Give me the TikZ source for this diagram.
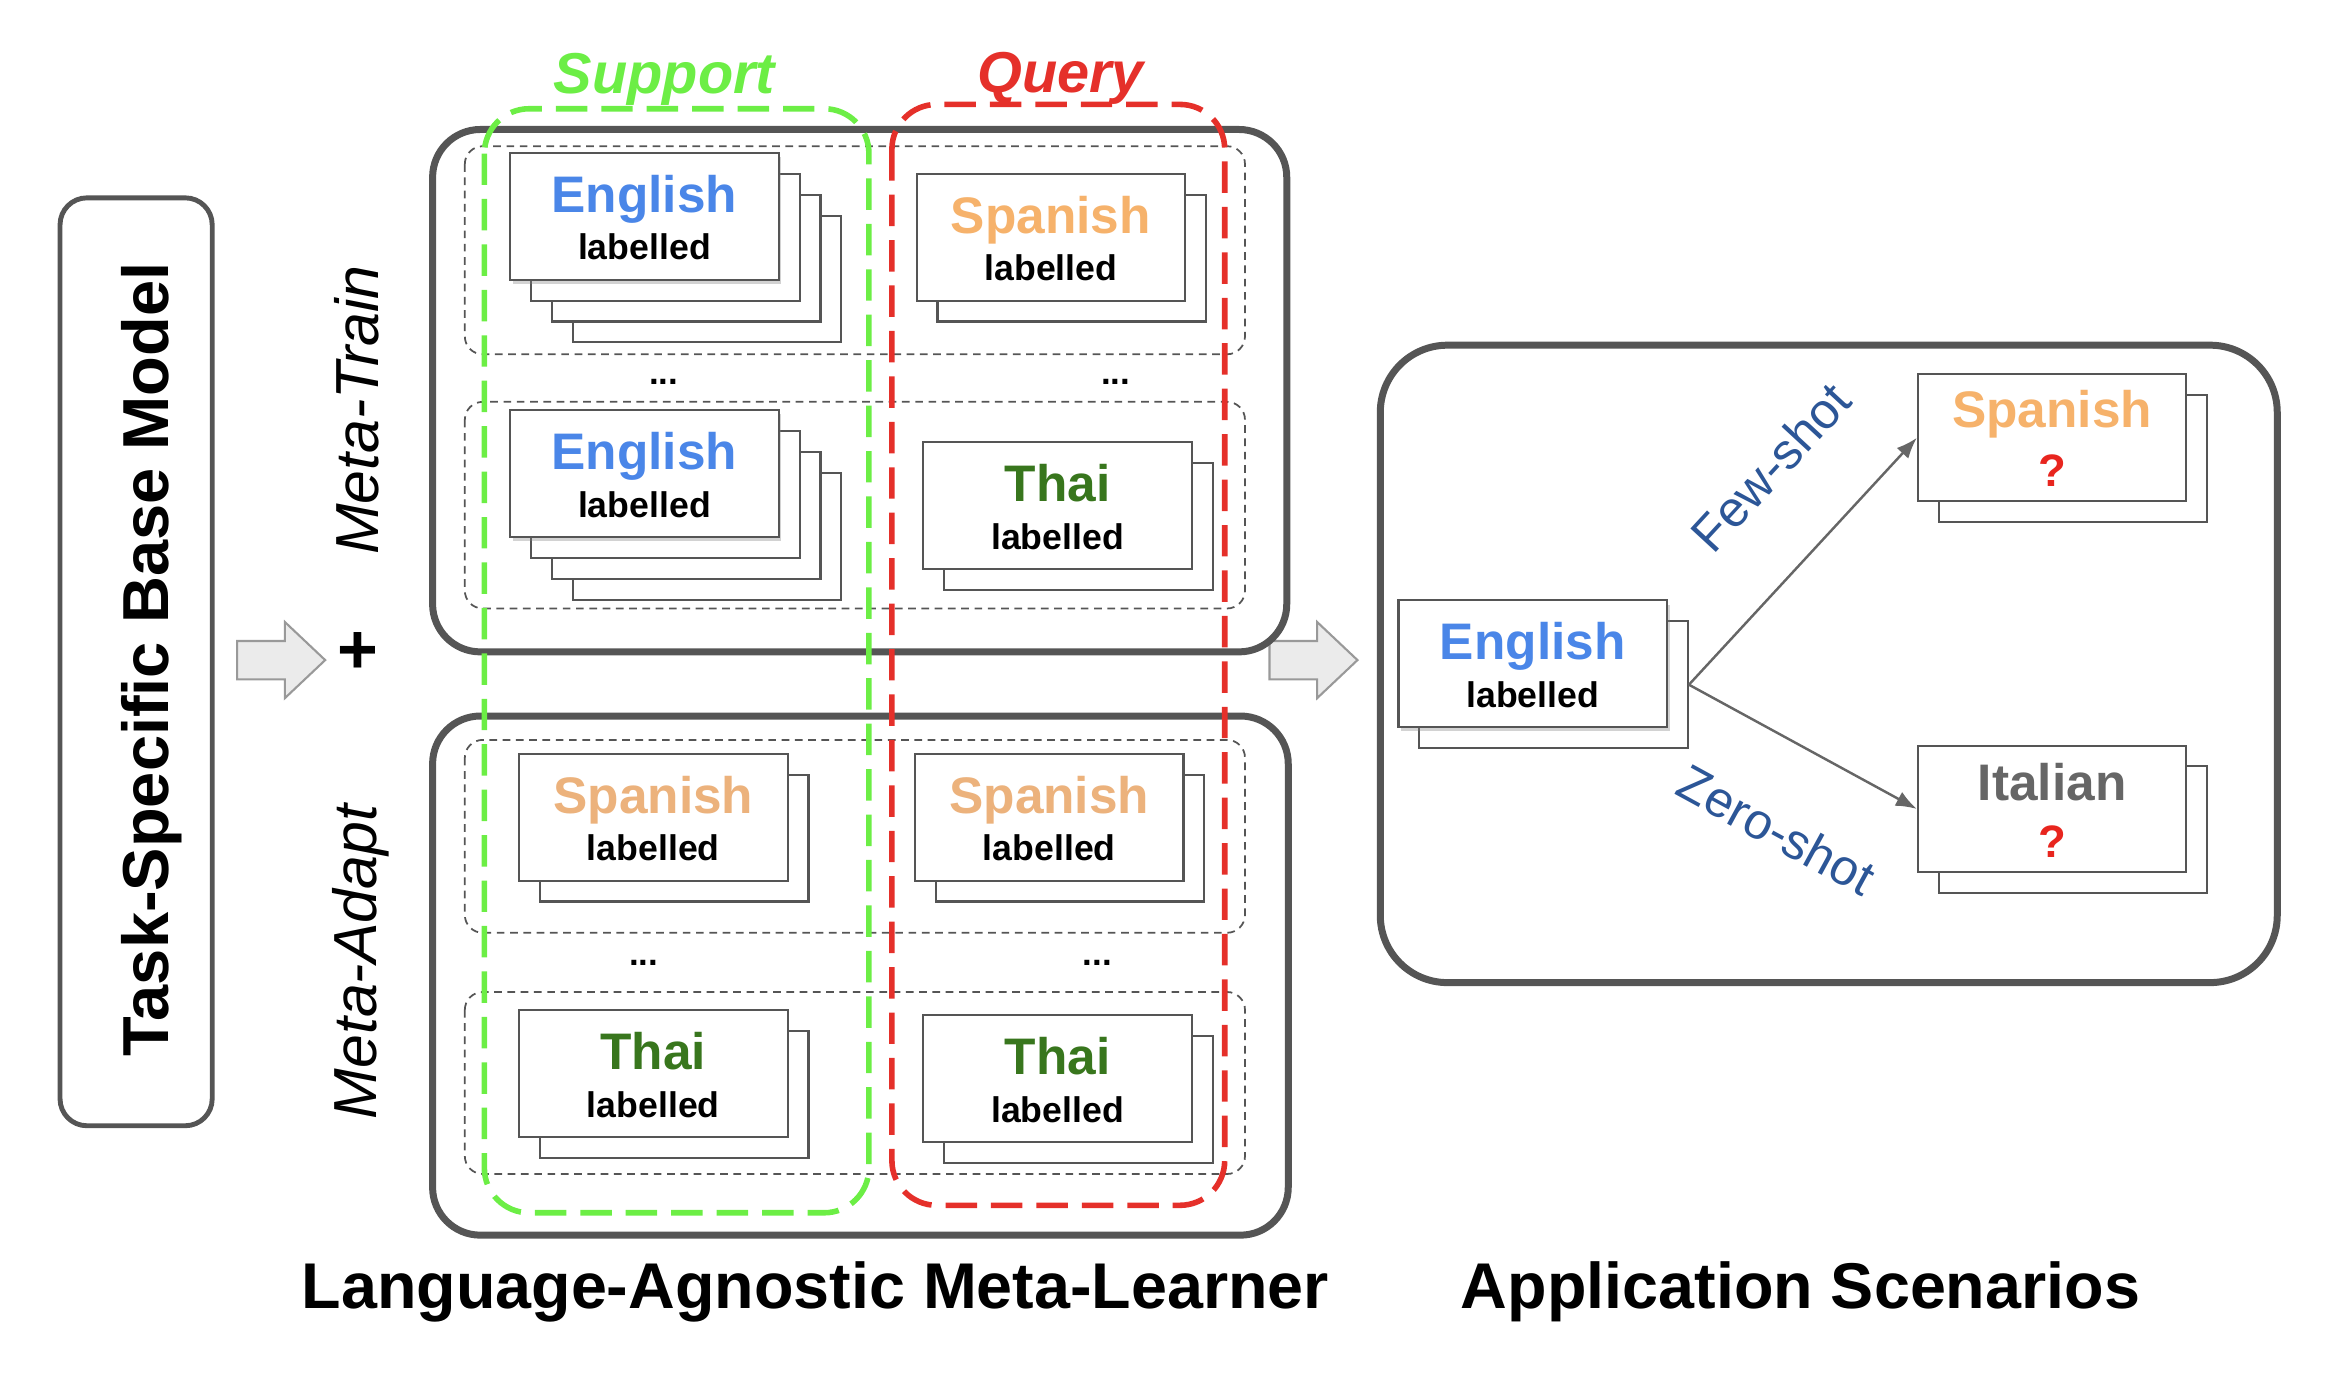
\documentclass[tikz,border=0pt]{standalone}
\usepackage{fontspec}
\setmainfont{Liberation Sans}
\usetikzlibrary{calc,shadows,arrows.meta}
\definecolor{engblue}{HTML}{4A86E8}
\definecolor{spaorange}{HTML}{F6B26B}
\definecolor{spapale}{HTML}{ECB27C}
\definecolor{thaigreen}{HTML}{38761D}
\definecolor{itagray}{HTML}{666666}
\definecolor{supgreen}{HTML}{6CEE45}
\definecolor{qryred}{HTML}{E5302A}
\definecolor{askred}{HTML}{E8251E}
\definecolor{shotblue}{HTML}{2C5697}
\definecolor{boxgray}{HTML}{555555}
\definecolor{arrowfill}{HTML}{EBEBEB}

\begin{document}
\begin{tikzpicture}[x=0.015cm,y=-0.015cm,
  card/.style={draw=boxgray,line width=0.6pt,fill=white,minimum width=2.7cm,minimum height=1.275cm,inner sep=0pt},
  lang/.style={font=\bfseries\fontsize{14.7}{16}\selectfont,inner sep=0pt},
  sub/.style={font=\bfseries\fontsize{10.2}{12}\selectfont,inner sep=0pt},
  ask/.style={font=\bfseries\fontsize{13}{14}\selectfont,text=askred,inner sep=0pt},
  bigbox/.style={draw=boxgray,line width=2pt,rounded corners=0.48cm},
  row/.style={draw=boxgray,line width=0.5pt,dash pattern=on 2.2pt off 1.6pt,rounded corners=0.18cm},
  set/.style={line width=1.6pt,dash pattern=on 9pt off 4pt,rounded corners=0.45cm},
  settitle/.style={font=\bfseries\itshape\fontsize{16.5}{18}\selectfont,inner sep=0pt,anchor=base},
  phase/.style={font=\itshape\fontsize{17.4}{19}\selectfont,inner sep=0pt,anchor=base,rotate=90},
  bottom/.style={font=\bfseries\fontsize{18.5}{20}\selectfont,inner sep=0pt,anchor=base},
  shot/.style={font=\fontsize{14.4}{16}\selectfont,text=shotblue,inner sep=0pt,sloped},
  conn/.style={draw=boxgray!90,line width=0.7pt,-{Latex[length=6pt,width=4.5pt]}},
  fat/.style={draw=gray!80,fill=arrowfill,line width=0.6pt}]

\useasboundingbox (0,0) rectangle (1568,925.8);

% base model
\node[draw=boxgray,line width=1.4pt,rounded corners=0.27cm,minimum width=1.53cm,minimum height=9.33cm] (base) at (91.25,443.65) {};
\node[font=\bfseries\fontsize{18.6}{20}\selectfont,inner sep=0pt,anchor=base,rotate=90] (baselbl) at (112.8,442) {Task-Specific Base Model};

% fat arrows
\foreach \sx in {0,692}
  \draw[fat,xshift=\sx*0.015cm] (159,429.7) -- (191,429.7) -- (191,417) -- (218,442.5) -- (191,468) -- (191,455.4) -- (159,455.4) -- cycle;
\node[font=\bfseries\fontsize{20}{20}\selectfont,inner sep=0pt] (plus) at (240,438) {+};

\node[phase] (mtrain) at (253.5,275) {Meta-Train};
\node[phase] (madapt) at (252.5,645) {Meta-Adapt};

% meta-learner
\draw[bigbox] (290,86.8) rectangle (862.6,437);
\draw[bigbox] (290,480) rectangle (863.6,828);

\draw[row] (311.6,98) rectangle (834.6,237.5);
\draw[row] (311.6,269.4) rectangle (834.6,407.9);
\draw[row] (311.6,496) rectangle (834.6,625.3);
\draw[row] (311.6,665) rectangle (834.6,787);

\node[font=\bfseries\fontsize{10}{12}\selectfont,inner sep=0pt,anchor=base] (dots1) at (445,258) {...};
\node[font=\bfseries\fontsize{10}{12}\selectfont,inner sep=0pt,anchor=base] (dots2) at (748,258) {...};
\node[font=\bfseries\fontsize{10}{12}\selectfont,inner sep=0pt,anchor=base] (dots3) at (431.6,647) {...};
\node[font=\bfseries\fontsize{10}{12}\selectfont,inner sep=0pt,anchor=base] (dots4) at (735.7,647) {...};

% labelled cards
\foreach \nm/\cx/\cy/\n/\word/\col/\sh in {
  e1/432/145/3/English/engblue/0.35,
  e2/432/317.5/3/English/engblue/0.35,
  s1/704.5/159/1/Spanish/spaorange/0,
  t1/709/339/1/Thai/thaigreen/0,
  s2/438/547.8/1/Spanish/spapale/0,
  s3/703.4/547.8/1/Spanish/spapale/0,
  t2/438/719.8/1/Thai/thaigreen/0,
  t3/709/723/1/Thai/thaigreen/0,
  ae/1027.5/445/1/English/engblue/0.35}
{
  \foreach \k in {\n,...,1}
    \node[card] (\nm-b\k) at ({\cx+14*\k},{\cy+14*\k}) {};
  \node[card,drop shadow={opacity=\sh,shadow xshift=0.8pt,shadow yshift=-1.2pt}] (\nm) at (\cx,\cy) {};
  \node[lang,text=\col,anchor=base] (\nm-w) at ($(\nm.center)+(0,-2.75)$) {\word};
  \node[sub,anchor=base] (\nm-l) at ($(\nm.center)+(0,29.25)$) {labelled};
}

\node[settitle,text=supgreen] (suplbl) at (445.4,63) {Support};
\node[settitle,text=qryred] (qrylbl) at (711,62) {Query};
\draw[set,draw=supgreen] (324.7,72.9) rectangle (582.5,813);
\draw[set,draw=qryred] (597.9,70) rectangle (821,808);

% application scenarios
\draw[bigbox,rounded corners=0.675cm] (925.3,231.4) rectangle (1526.6,658.7);

\node[card] (as-b1) at (1389.7,307.5) {};
\node[card] (as) at (1375.7,293.5) {};
\node[lang,text=spaorange,anchor=base] (as-w) at ($(as.center)+(0,-6.8)$) {Spanish};
\node[ask,anchor=base] (as-q) at ($(as.center)+(0,32.3)$) {?};

\node[card] (ai-b1) at (1389.7,556.3) {};
\node[card] (ai) at (1375.7,542.3) {};
\node[lang,text=itagray,anchor=base] (ai-w) at ($(ai.center)+(0,-5.7)$) {Italian};
\node[ask,anchor=base] (ai-q) at ($(ai.center)+(0,32.3)$) {?};

\draw[conn] (ae-b1.east) -- node[shot,above=19.4pt,pos=0.641] (fewlbl) {Few-shot} (as.west);
\draw[conn] (ae-b1.east) -- node[shot,below=18.8pt,pos=0.563] (zerolbl) {Zero-shot} (ai.west);

\node[bottom] (learnerlbl) at (546.6,877) {Language-Agnostic Meta-Learner};
\node[bottom] (scenlbl) at (1207,877) {Application Scenarios};

\end{tikzpicture}
\end{document}
